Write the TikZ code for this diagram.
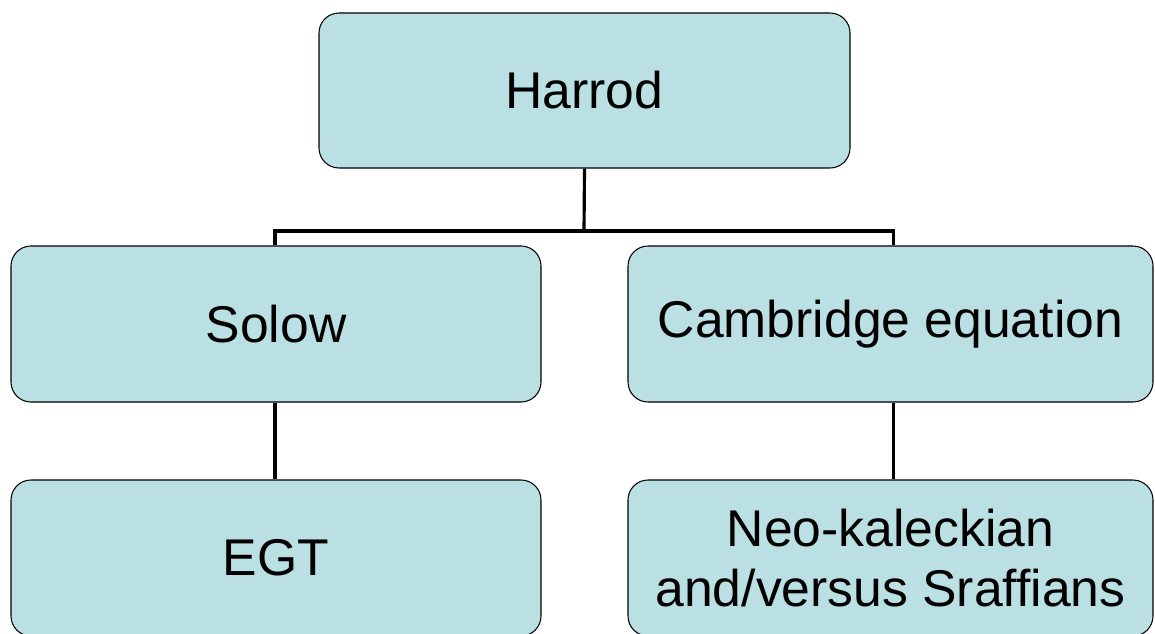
\documentclass[tikz,border=0pt]{standalone}
\usepackage{fontspec}
\setmainfont{Liberation Sans}

\begin{document}
\begin{tikzpicture}[box/.style={draw=black,fill={rgb,255:red,187;green,224;blue,227},rounded corners=0.4cm,line width=0.6pt,align=center,minimum width=10.6cm,minimum height=3.12cm,inner sep=0pt,font=\fontsize{29.4}{34}\selectfont},link/.style={line width=1.8pt,draw=black}]
\useasboundingbox (0,0) rectangle (23.1,-12.66);
\node[box,minimum width=10.62cm,minimum height=3.1cm] (harrod) at (11.69,-1.81) {Harrod};
\node[box] (solow) at (5.52,-6.48) {Solow};
\node[box,minimum width=10.5cm] (cambridge) at (17.81,-6.48) {Cambridge equation};
\node[box] (egt) at (5.52,-11.16) {EGT};
\node[box,minimum width=10.5cm] (neo) at (17.81,-11.16) {Neo-kaleckian\\and/versus Sraffians};
\coordinate (split) at (11.68,-4.62);
\draw[link] (harrod.south) -- (split);
\draw[link] (split) -| ([xshift=-0.02cm]solow.north);
\draw[link] (split) -| ([xshift=0.06cm]cambridge.north);
\draw[link] ([xshift=-0.02cm]solow.south) -- ([xshift=-0.02cm]egt.north);
\draw[link] ([xshift=0.06cm]cambridge.south) -- ([xshift=0.06cm]neo.north);
\end{tikzpicture}
\end{document}
